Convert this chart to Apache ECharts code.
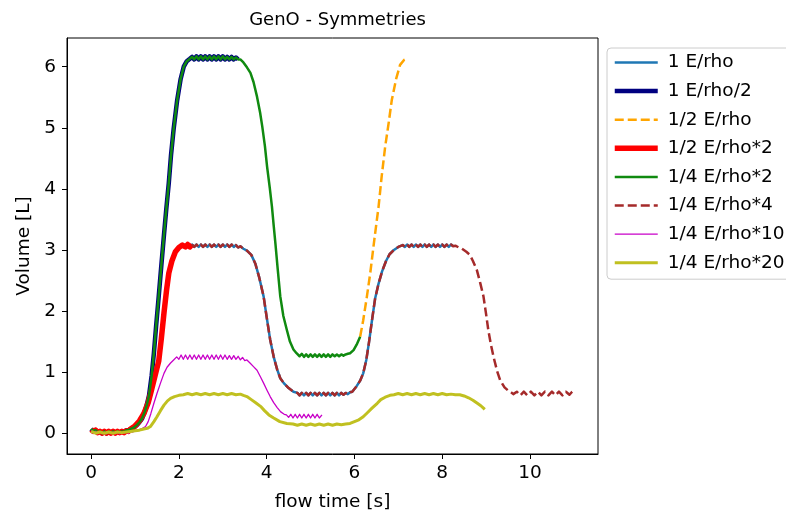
<!DOCTYPE html>
<html>
<head>
<meta charset="utf-8">
<script src="https://cdn.jsdelivr.net/npm/echarts@6/dist/echarts.min.js"></script>
<style>
  html, body { margin: 0; padding: 0; background: #fff; }
  #chart { width: 786px; height: 518px; }
</style>
</head>
<body>
<div id="chart"></div>
<script>
// Volume traces [t (s), V (L)] for the symmetry runs.

// Half-amplitude breathing cycle (shared by the 1 E/rho, 1/2 E/rho*2 and 1/4 E/rho*4 runs)
const wave3 = [
  [0.00,0.06],[0.05,0.03],[0.10,0.05],[0.15,0.01],[0.20,0.03],[0.25,0.00],[0.30,0.03],[0.35,0.00],
  [0.40,0.03],[0.45,0.00],[0.50,0.03],[0.55,0.00],[0.60,0.03],[0.65,0.01],[0.70,0.03],[0.75,0.01],
  [0.80,0.04],[0.85,0.03],[0.90,0.07],
  [1.00,0.12],[1.10,0.20],[1.20,0.32],[1.30,0.50],[1.38,0.72],[1.46,0.95],[1.54,1.18],[1.60,1.55],
  [1.66,1.97],[1.72,2.35],[1.77,2.62],[1.84,2.82],[1.92,2.97],[2.00,3.04],[2.08,3.08],
  [2.15,3.05],[2.20,3.09],[2.25,3.05],[2.30,3.09],[2.35,3.05],[2.40,3.09],[2.45,3.05],[2.50,3.09],
  [2.55,3.05],[2.60,3.09],[2.65,3.05],[2.70,3.09],[2.75,3.05],[2.80,3.09],[2.85,3.05],[2.90,3.09],
  [2.95,3.05],[3.00,3.09],[3.05,3.05],[3.10,3.09],[3.15,3.05],[3.20,3.09],[3.25,3.05],[3.30,3.08],
  [3.35,3.04],[3.40,3.06],[3.47,3.02],[3.55,2.99],
  [3.65,2.92],[3.74,2.78],[3.83,2.55],[3.93,2.24],[4.00,1.90],[4.08,1.53],[4.16,1.25],[4.24,1.04],
  [4.31,0.90],[4.39,0.82],[4.50,0.74],[4.61,0.68],[4.70,0.66],
  [4.75,0.62],[4.80,0.66],[4.85,0.62],[4.90,0.66],[4.95,0.62],[5.00,0.66],[5.05,0.62],[5.10,0.66],
  [5.15,0.62],[5.20,0.66],[5.25,0.62],[5.30,0.66],[5.35,0.62],[5.40,0.66],[5.45,0.62],[5.50,0.66],
  [5.55,0.62],[5.60,0.66],[5.65,0.62],[5.70,0.66],[5.75,0.63],[5.80,0.66],[5.85,0.64],[5.90,0.67],
  [5.95,0.68],[6.05,0.77],[6.13,0.86],[6.20,0.98],[6.27,1.20],[6.33,1.48],[6.40,1.85],[6.47,2.20],
  [6.55,2.45],[6.63,2.65],[6.72,2.82],[6.80,2.93],[6.90,3.00],[7.00,3.05],[7.10,3.08],
  [7.15,3.05],[7.20,3.09],[7.25,3.05],[7.30,3.09],[7.35,3.05],[7.40,3.09],[7.45,3.05],[7.50,3.09],
  [7.55,3.05],[7.60,3.09],[7.65,3.05],[7.70,3.09],[7.75,3.05],[7.80,3.09],[7.85,3.05],[7.90,3.09],
  [7.95,3.05],[8.00,3.09],[8.05,3.05],[8.10,3.09],[8.15,3.05],[8.20,3.09],[8.25,3.06],[8.30,3.07],
  [8.38,3.04],[8.45,3.02],[8.55,2.97],[8.63,2.92],[8.70,2.82],[8.79,2.67],[8.87,2.45],[8.94,2.24],
  [9.00,1.95],[9.05,1.69],[9.11,1.45],[9.17,1.25],[9.25,1.02],[9.32,0.87],[9.42,0.75],[9.50,0.70],
  [9.55,0.68],[9.62,0.64],[9.70,0.68],[9.78,0.62],[9.86,0.68],[9.94,0.62],[10.02,0.68],[10.10,0.62],
  [10.18,0.68],[10.26,0.62],[10.34,0.68],[10.42,0.62],[10.50,0.68],[10.58,0.62],[10.66,0.68],
  [10.74,0.62],[10.82,0.68],[10.90,0.63],[10.96,0.68],[11.00,0.70]
];

// Full-amplitude cycle (shared by the 1 E/rho/2, 1/4 E/rho*2 and 1/2 E/rho runs)
const wave6 = [
  [0.00,0.07],[0.05,0.03],[0.10,0.05],[0.15,0.01],[0.20,0.03],[0.25,0.00],[0.30,0.03],[0.35,0.00],
  [0.40,0.03],[0.45,0.01],[0.50,0.03],[0.55,0.01],[0.60,0.03],[0.65,0.01],[0.70,0.03],[0.75,0.02],
  [0.80,0.05],[0.85,0.05],[0.90,0.07],[0.97,0.09],[1.05,0.14],[1.10,0.18],[1.16,0.24],[1.22,0.35],
  [1.27,0.47],[1.32,0.62],[1.38,0.95],[1.43,1.31],[1.48,1.75],[1.54,2.24],[1.60,2.75],[1.66,3.25],
  [1.71,3.65],[1.77,4.10],[1.82,4.55],[1.88,4.98],[1.96,5.45],[2.04,5.80],[2.11,6.00],[2.18,6.09],
  [2.25,6.13],
  [2.30,6.16],[2.35,6.12],[2.40,6.17],[2.45,6.12],[2.50,6.17],[2.55,6.12],[2.60,6.17],[2.65,6.12],
  [2.70,6.17],[2.75,6.12],[2.80,6.17],[2.85,6.12],[2.90,6.17],[2.95,6.12],[3.00,6.17],[3.05,6.12],
  [3.10,6.16],[3.15,6.12],[3.20,6.16],[3.25,6.12],[3.30,6.15],[3.35,6.12],[3.40,6.12],
  [3.47,6.07],[3.55,5.99],[3.63,5.90],[3.70,5.75],[3.78,5.51],[3.85,5.25],[3.90,5.02],[3.96,4.70],
  [4.01,4.36],[4.07,4.02],[4.12,3.71],[4.16,3.40],[4.20,3.10],[4.25,2.70],[4.31,2.24],[4.38,1.92],
  [4.46,1.69],[4.53,1.50],[4.61,1.37],[4.68,1.31],
  [4.75,1.26],[4.80,1.30],[4.85,1.25],[4.90,1.29],[4.95,1.25],[5.00,1.29],[5.05,1.25],[5.10,1.29],
  [5.15,1.25],[5.20,1.29],[5.25,1.25],[5.30,1.29],[5.35,1.25],[5.40,1.29],[5.45,1.25],[5.50,1.29],
  [5.55,1.26],[5.60,1.29],[5.65,1.26],[5.70,1.29],[5.75,1.27],[5.80,1.29],[5.85,1.30],[5.90,1.31],
  [5.98,1.36],[6.05,1.45],[6.13,1.58],
  [6.20,1.85],[6.28,2.22],[6.36,2.62],[6.45,3.15],[6.55,3.71],[6.62,4.20],[6.70,4.69],[6.78,5.08],
  [6.85,5.45],[6.95,5.80],[7.04,6.03],[7.13,6.11],[7.22,6.14]
];

// 1/4 E/rho*10
const magentaRun = [
  [0.00,0.04],[0.05,0.00],[0.10,0.03],[0.15,-0.01],[0.20,0.02],[0.25,-0.01],[0.30,0.02],[0.35,-0.01],
  [0.40,0.02],[0.45,-0.01],[0.50,0.02],[0.55,-0.01],[0.60,0.02],[0.65,-0.01],[0.70,0.02],[0.75,0.00],
  [0.80,0.02],[0.85,0.00],[0.90,0.03],[0.95,0.02],[1.00,0.04],[1.05,0.04],[1.10,0.06],[1.17,0.08],
  [1.24,0.11],[1.30,0.19],[1.36,0.32],[1.43,0.49],[1.50,0.65],[1.58,0.82],[1.66,0.98],[1.73,1.08],
  [1.81,1.15],[1.88,1.20],
  [1.95,1.25],[2.00,1.21],[2.05,1.28],[2.10,1.21],[2.15,1.28],[2.20,1.21],[2.25,1.28],[2.30,1.21],
  [2.35,1.28],[2.40,1.21],[2.45,1.28],[2.50,1.21],[2.55,1.28],[2.60,1.21],[2.65,1.28],[2.70,1.21],
  [2.75,1.28],[2.80,1.21],[2.85,1.28],[2.90,1.21],[2.95,1.28],[3.00,1.21],[3.05,1.28],[3.10,1.21],
  [3.15,1.27],[3.20,1.21],[3.25,1.27],[3.30,1.21],[3.35,1.26],[3.40,1.20],[3.45,1.24],[3.50,1.19],
  [3.55,1.20],
  [3.62,1.15],[3.70,1.09],[3.78,1.03],[3.86,0.92],[3.93,0.82],[4.01,0.70],[4.08,0.60],[4.16,0.50],
  [4.24,0.42],[4.32,0.35],[4.40,0.31],
  [4.45,0.30],[4.50,0.26],[4.55,0.31],[4.60,0.25],[4.65,0.31],[4.70,0.25],[4.75,0.31],[4.80,0.25],
  [4.85,0.31],[4.90,0.25],[4.95,0.31],[5.00,0.25],[5.05,0.31],[5.10,0.25],[5.15,0.31],[5.20,0.25],
  [5.26,0.30]
];

// 1/4 E/rho*20
const yellowRun = [
  [0.00,0.03],[0.10,0.00],[0.20,0.02],[0.30,0.00],[0.40,0.02],[0.50,0.00],[0.60,0.02],[0.70,0.01],
  [0.80,0.02],[0.90,0.03],[1.00,0.04],[1.10,0.05],[1.20,0.07],[1.28,0.08],[1.35,0.11],[1.43,0.19],
  [1.50,0.27],[1.58,0.37],[1.66,0.46],[1.74,0.53],[1.81,0.57],[1.90,0.60],[2.00,0.62],[2.10,0.63],
  [2.20,0.65],[2.30,0.63],[2.40,0.65],[2.50,0.63],[2.60,0.65],[2.70,0.63],[2.80,0.65],[2.90,0.63],
  [3.00,0.65],[3.10,0.63],[3.20,0.65],[3.30,0.63],[3.40,0.64],[3.47,0.62],
  [3.55,0.60],[3.65,0.55],[3.75,0.50],[3.86,0.44],[3.95,0.37],[4.05,0.30],[4.16,0.25],[4.30,0.19],
  [4.46,0.16],[4.60,0.15],
  [4.70,0.13],[4.80,0.15],[4.90,0.13],[5.00,0.15],[5.10,0.13],[5.20,0.15],[5.30,0.13],[5.40,0.15],
  [5.50,0.13],[5.60,0.15],[5.70,0.14],[5.80,0.15],[5.90,0.16],[6.00,0.19],[6.10,0.22],[6.20,0.27],
  [6.30,0.34],[6.40,0.41],[6.52,0.49],[6.60,0.55],[6.70,0.59],[6.81,0.62],[6.90,0.63],
  [7.00,0.65],[7.10,0.63],[7.20,0.65],[7.30,0.63],[7.40,0.65],[7.50,0.63],[7.60,0.65],[7.70,0.63],
  [7.80,0.65],[7.90,0.63],[8.00,0.65],[8.10,0.63],[8.20,0.64],[8.30,0.63],[8.40,0.63],
  [8.50,0.61],[8.60,0.58],[8.70,0.54],[8.80,0.49],[8.88,0.45],[8.94,0.41],[8.97,0.39]
];

// Time spans covered by each run (restarts pick up where another run stopped)
const blueEnd = 8.25;
const redEnd = 2.30;
const brownStart = 2.30;
const navyEnd = 3.35;
const greenEnd = 6.13;
const orangeStart = 6.13;

const seriesNames = [
  '1 E/rho', '1 E/rho/2', '1/2 E/rho', '1/2 E/rho*2',
  '1/4 E/rho*2', '1/4 E/rho*4', '1/4 E/rho*10', '1/4 E/rho*20'
];
const xTicks = [0, 2, 4, 6, 8, 10];
const yTicks = [0, 1, 2, 3, 4, 5, 6];

const FONT = 'DejaVu Sans';
const LABEL_SIZE = 18.5;

function lineSeries(name, data, color, width, dash) {
  return {
    name: name,
    type: 'line',
    data: data,
    symbol: 'none',
    showSymbol: false,
    animation: false,
    silent: true,
    lineStyle: { color: color, width: width, type: dash || 'solid', join: 'round', cap: 'butt' },
    itemStyle: { color: color },
    emphasis: { disabled: true }
  };
}

const chart = echarts.init(document.getElementById('chart'), null, { renderer: 'canvas' });

chart.setOption({
  backgroundColor: '#ffffff',
  animation: false,
  title: {
    text: 'GenO - Symmetries',
    left: 332.5,
    textAlign: 'center',
    top: 6,
    textStyle: { fontFamily: FONT, fontSize: 18, fontWeight: 'normal', color: '#000' }
  },
  grid: {
    left: 67, right: 188, top: 38, bottom: 64,
    show: true, borderColor: '#000', borderWidth: 1, backgroundColor: 'transparent'
  },
  legend: {
    orient: 'vertical',
    left: 607,
    top: 48,
    data: seriesNames,
    itemWidth: 43,
    itemHeight: 14,
    itemGap: 9.6,
    padding: [5, 12, 7, 5],
    borderColor: '#cccccc',
    borderWidth: 1,
    borderRadius: 4,
    backgroundColor: 'rgba(255,255,255,0.8)',
    selectedMode: false,
    itemStyle: { opacity: 0, borderWidth: 0 },
    lineStyle: { width: 'inherit' },
    textStyle: { fontFamily: FONT, fontSize: LABEL_SIZE, color: '#000', padding: [0, 0, 0, 5] }
  },
  xAxis: {
    type: 'value',
    min: -0.55,
    max: 11.55,
    name: 'flow time [s]',
    nameLocation: 'middle',
    nameGap: 39,
    nameTextStyle: { fontFamily: FONT, fontSize: LABEL_SIZE, color: '#000' },
    axisLine: { show: true, onZero: false, lineStyle: { color: '#000', width: 1 } },
    axisTick: { show: true, length: 5, customValues: xTicks, lineStyle: { color: '#000' } },
    axisLabel: { customValues: xTicks, margin: 10, fontFamily: FONT, fontSize: LABEL_SIZE, color: '#000' },
    splitLine: { show: false }
  },
  yAxis: {
    type: 'value',
    min: -0.34,
    max: 6.47,
    name: 'Volume [L]',
    nameLocation: 'middle',
    nameGap: 31,
    nameTextStyle: { fontFamily: FONT, fontSize: LABEL_SIZE, color: '#000' },
    axisLine: { show: true, onZero: false, lineStyle: { color: '#000', width: 1 } },
    axisTick: { show: true, length: 5, customValues: yTicks, lineStyle: { color: '#000' } },
    axisLabel: { customValues: yTicks, margin: 11, fontFamily: FONT, fontSize: LABEL_SIZE, color: '#000' },
    splitLine: { show: false }
  },
  series: [
    lineSeries(seriesNames[0], wave3.filter(p => p[0] <= blueEnd), '#1f77b4', 2.5),
    lineSeries(seriesNames[1], wave6.filter(p => p[0] <= navyEnd), '#000080', 4.5),
    lineSeries(seriesNames[2], wave6.filter(p => p[0] >= orangeStart), '#ffa500', 2.5, [9, 4]),
    lineSeries(seriesNames[3], wave3.filter(p => p[0] <= redEnd), '#ff0000', 5.5),
    lineSeries(seriesNames[4], wave6.filter(p => p[0] <= greenEnd), '#108a10', 2.5),
    lineSeries(seriesNames[5], wave3.filter(p => p[0] >= brownStart), '#a52a2a', 2.5, [9, 4]),
    lineSeries(seriesNames[6], magentaRun, '#c800c8', 1.3),
    lineSeries(seriesNames[7], yellowRun, '#c0c020', 3)
  ]
});
</script>
</body>
</html>
